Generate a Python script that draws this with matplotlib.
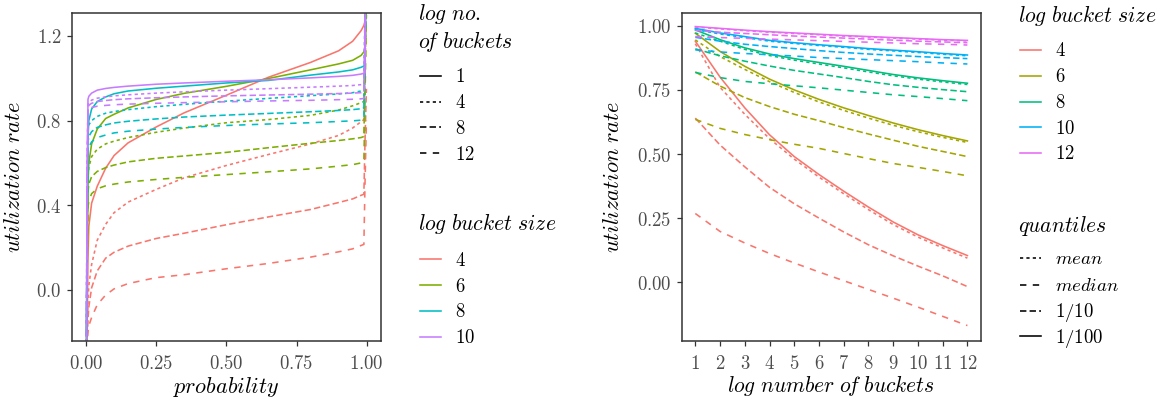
"""Utilization rate of buckets: quantile functions and summary curves."""

import matplotlib
matplotlib.use("Agg")
import matplotlib.pyplot as plt

plt.rcParams["mathtext.fontset"] = "cm"

W, H = 1173, 401

# ---------------------------------------------------------------- left panel
probability = [0.001, 0.004, 0.007, 0.01, 0.02, 0.04, 0.07, 0.1, 0.15, 0.25,
               0.35, 0.5, 0.65, 0.8, 0.9, 0.95, 0.98, 0.99, 0.994, 0.999]
left_sizes = [4, 6, 8, 10]
left_counts = [1, 4, 8, 12]

util_b4 = {
    1: [-0.4, -0.2, 0.15, 0.3, 0.41, 0.49, 0.575, 0.635, 0.695, 0.77,
        0.837, 0.92, 1.005, 1.075, 1.13, 1.175, 1.225, 1.25, 1.27, 1.8],
    4: [-0.4, -0.22, -0.05, 0.02, 0.12, 0.235, 0.31, 0.365, 0.415, 0.475,
        0.53, 0.588, 0.64, 0.69, 0.73, 0.765, 0.795, 0.805, 1.0, 1.4],
    8: [-0.4, -0.25, -0.14, -0.08, 0.01, 0.09, 0.15, 0.178, 0.207, 0.243,
        0.268, 0.308, 0.345, 0.38, 0.413, 0.43, 0.447, 0.452, 0.7, 0.95],
    12: [-0.4, -0.24, -0.2, -0.17, -0.13, -0.07, -0.024, 0.005, 0.03, 0.058,
         0.072, 0.1, 0.125, 0.155, 0.18, 0.194, 0.21, 0.215, 0.5, 0.8],
}
util_b6 = {
    1: [-0.4, 0.1, 0.5, 0.6, 0.69, 0.76, 0.81, 0.83, 0.86, 0.9,
        0.929, 0.962, 0.999, 1.04, 1.068, 1.085, 1.108, 1.125, 1.14, 1.8],
    4: [-0.4, 0.3, 0.54, 0.58, 0.63, 0.665, 0.69, 0.703, 0.72, 0.745,
        0.765, 0.79, 0.805, 0.825, 0.85, 0.87, 0.885, 0.89, 1.2, 1.6],
    8: [-0.4, 0.2, 0.46, 0.5, 0.535, 0.56, 0.578, 0.59, 0.605, 0.622,
        0.633, 0.65, 0.672, 0.693, 0.706, 0.714, 0.72, 0.725, 1.0, 1.4],
    12: [-0.4, 0.1, 0.39, 0.42, 0.455, 0.478, 0.492, 0.5, 0.51, 0.522,
         0.532, 0.545, 0.558, 0.572, 0.585, 0.592, 0.6, 0.607, 0.9, 1.3],
}
util_b8 = {
    1: [-0.4, 0.3, 0.72, 0.8, 0.855, 0.89, 0.912, 0.927, 0.94, 0.953,
        0.963, 0.978, 0.99, 1.015, 1.03, 1.04, 1.052, 1.058, 1.062, 1.8],
    4: [-0.4, 0.5, 0.76, 0.78, 0.8, 0.82, 0.835, 0.843, 0.852, 0.866,
        0.877, 0.892, 0.905, 0.918, 0.926, 0.932, 0.94, 0.946, 1.3, 1.7],
    8: [-0.4, 0.4, 0.7, 0.725, 0.748, 0.768, 0.78, 0.789, 0.797, 0.808,
        0.817, 0.826, 0.834, 0.842, 0.848, 0.852, 0.856, 0.86, 1.2, 1.6],
    12: [-0.4, 0.35, 0.65, 0.675, 0.7, 0.72, 0.732, 0.742, 0.75, 0.76,
         0.768, 0.777, 0.784, 0.79, 0.796, 0.799, 0.802, 0.804, 1.1, 1.5],
}
util_b10 = {
    1: [-0.4, 0.5, 0.9, 0.915, 0.93, 0.944, 0.952, 0.957, 0.963, 0.972,
        0.978, 0.986, 0.993, 1.002, 1.009, 1.014, 1.02, 1.024, 1.026, 1.8],
    4: [-0.4, 0.6, 0.875, 0.885, 0.897, 0.906, 0.912, 0.917, 0.922, 0.93,
        0.936, 0.944, 0.951, 0.958, 0.963, 0.966, 0.97, 0.972, 1.3, 1.7],
    8: [-0.4, 0.55, 0.86, 0.872, 0.882, 0.89, 0.895, 0.899, 0.903, 0.908,
        0.912, 0.917, 0.921, 0.925, 0.928, 0.93, 0.932, 0.934, 1.25, 1.6],
    12: [-0.4, 0.5, 0.84, 0.852, 0.862, 0.868, 0.872, 0.875, 0.878, 0.882,
         0.885, 0.889, 0.893, 0.896, 0.899, 0.901, 0.903, 0.905, 1.2, 1.5],
}
left_data = [util_b4, util_b6, util_b8, util_b10]

# --------------------------------------------------------------- right panel
log_buckets = [1, 2, 3, 4, 5, 6, 7, 8, 9, 10, 11, 12]
right_sizes = [4, 6, 8, 10, 12]
quantile_names = ["mean", "median", "1/10", "1/100"]

rate_b4 = {
    "1/100": [0.94, 0.80, 0.68, 0.575, 0.49, 0.42, 0.355, 0.293, 0.235, 0.185, 0.143, 0.104],
    "mean": [0.93, 0.76, 0.655, 0.56, 0.48, 0.41, 0.345, 0.283, 0.225, 0.176, 0.134, 0.094],
    "1/10": [0.64, 0.535, 0.45, 0.37, 0.306, 0.25, 0.196, 0.146, 0.103, 0.063, 0.025, -0.017],
    "median": [0.268, 0.198, 0.153, 0.112, 0.075, 0.04, 0.006, -0.028, -0.062, -0.097, -0.133, -0.169],
}
rate_b6 = {
    "1/100": [0.971, 0.90, 0.842, 0.792, 0.75, 0.713, 0.68, 0.65, 0.621, 0.595, 0.572, 0.551],
    "mean": [0.945, 0.88, 0.83, 0.782, 0.74, 0.703, 0.67, 0.64, 0.612, 0.587, 0.565, 0.545],
    "1/10": [0.82, 0.765, 0.72, 0.685, 0.655, 0.63, 0.603, 0.578, 0.554, 0.53, 0.51, 0.49],
    "median": [0.635, 0.60, 0.576, 0.556, 0.538, 0.522, 0.502, 0.482, 0.463, 0.448, 0.432, 0.415],
}
rate_b8 = {
    "1/100": [0.984, 0.946, 0.914, 0.89, 0.872, 0.857, 0.842, 0.826, 0.81, 0.797, 0.786, 0.776],
    "mean": [0.972, 0.94, 0.908, 0.884, 0.866, 0.851, 0.836, 0.82, 0.805, 0.792, 0.781, 0.771],
    "1/10": [0.91, 0.883, 0.862, 0.843, 0.826, 0.812, 0.798, 0.783, 0.77, 0.76, 0.751, 0.743],
    "median": [0.818, 0.798, 0.783, 0.774, 0.766, 0.758, 0.749, 0.74, 0.731, 0.724, 0.716, 0.708],
}
rate_b10 = {
    "1/100": [0.99, 0.972, 0.958, 0.943, 0.934, 0.926, 0.919, 0.911, 0.905, 0.899, 0.892, 0.886],
    "mean": [0.985, 0.968, 0.954, 0.94, 0.931, 0.923, 0.916, 0.908, 0.902, 0.896, 0.889, 0.883],
    "1/10": [0.955, 0.94, 0.928, 0.919, 0.911, 0.903, 0.896, 0.89, 0.885, 0.88, 0.876, 0.872],
    "median": [0.906, 0.898, 0.892, 0.887, 0.882, 0.876, 0.872, 0.868, 0.864, 0.86, 0.855, 0.851],
}
rate_b12 = {
    "1/100": [0.997, 0.99, 0.983, 0.977, 0.972, 0.967, 0.962, 0.958, 0.954, 0.95, 0.946, 0.943],
    "mean": [0.995, 0.988, 0.981, 0.975, 0.97, 0.965, 0.96, 0.956, 0.952, 0.948, 0.944, 0.941],
    "1/10": [0.982, 0.975, 0.97, 0.965, 0.96, 0.956, 0.952, 0.948, 0.944, 0.94, 0.937, 0.934],
    "median": [0.958, 0.954, 0.951, 0.948, 0.945, 0.942, 0.939, 0.936, 0.933, 0.93, 0.928, 0.925],
}
right_data = [rate_b4, rate_b6, rate_b8, rate_b10, rate_b12]

# ---------------------------------------------------------------- styles
LEFT_COLORS = ["#F8766D", "#7CAE00", "#00BFC4", "#C77CFF"]
RIGHT_COLORS = ["#F8766D", "#A3A500", "#00BF7D", "#00B0F6", "#E76BF3"]
COUNT_STYLE = {1: "-", 4: (0, (2, 2)), 8: (0, (4, 2)), 12: (0, (4, 4))}
QUANT_STYLE = {"1/100": "-", "mean": (0, (2, 2)), "1/10": (0, (4, 2)), "median": (0, (4, 4))}
LW = 1.15
TICK_SIZE = 13.5
TITLE_SIZE = 16
LEG_TITLE = 15.5
LEG_LABEL = 13.5


def it(text):
    """Italic math text, Computer Modern look."""
    body = text.replace(" of ", r" o\!f ").replace("of ", r"o\!f ")
    return r"$\mathit{" + body.replace(" ", r"\ ") + "}$"


def style_axes(ax):
    for spine in ax.spines.values():
        spine.set_color("#333333")
        spine.set_linewidth(1.1)
    ax.tick_params(length=3.3, width=0.9, color="#333333", labelcolor="#4D4D4D",
                   labelsize=TICK_SIZE)
    ax.tick_params(axis="x", pad=6)
    ax.tick_params(axis="y", pad=4)


fig = plt.figure(figsize=(W / 100, H / 100), dpi=100)

# left axes
ax1 = fig.add_axes([71.7 / W, 1 - 340.7 / H, 309.3 / W, 328 / H])
for size_vals, col in zip(left_data, LEFT_COLORS):
    for n in left_counts:
        ax1.plot(probability, size_vals[n], color=col, lw=LW, ls=COUNT_STYLE[n])
ax1.set_xlim(-0.051, 1.051)
ax1.set_ylim(-0.24, 1.31)
ax1.set_xticks([0, 0.25, 0.5, 0.75, 1.0])
ax1.set_xticklabels([it(s) for s in ["0.00", "0.25", "0.50", "0.75", "1.00"]])
ax1.set_yticks([0.0, 0.4, 0.8, 1.2])
ax1.set_yticklabels([it(s) for s in ["0.0", "0.4", "0.8", "1.2"]])
style_axes(ax1)
ax1.set_xlabel(it("probability"), fontsize=TITLE_SIZE)
ax1.set_ylabel(it("utilization rate"), fontsize=TITLE_SIZE)
ax1.xaxis.set_label_coords(0.5, -0.105)
ax1.yaxis.set_label_coords(-0.155, 0.5)

# right axes
ax2 = fig.add_axes([681.7 / W, 1 - 340.7 / H, 299.3 / W, 328 / H])
for size_vals, col in zip(right_data, RIGHT_COLORS):
    for q in ["1/100", "mean", "1/10", "median"]:
        ax2.plot(log_buckets, size_vals[q], color=col, lw=LW, ls=QUANT_STYLE[q])
ax2.set_xlim(0.45, 12.55)
ax2.set_ylim(-0.228, 1.051)
ax2.set_xticks(log_buckets)
ax2.set_xticklabels([it(str(k)) for k in log_buckets])
ax2.set_yticks([0.0, 0.25, 0.5, 0.75, 1.0])
ax2.set_yticklabels([it(s) for s in ["0.00", "0.25", "0.50", "0.75", "1.00"]])
style_axes(ax2)
ax2.set_xlabel(it("log number of buckets"), fontsize=15.5)
ax2.set_ylabel(it("utilization rate"), fontsize=TITLE_SIZE)
ax2.xaxis.set_label_coords(0.5, -0.1)
ax2.yaxis.set_label_coords(-0.195, 0.5)

# legends drawn in a pixel-space overlay
lax = fig.add_axes([0, 0, 1, 1], facecolor="none")
lax.set_xlim(0, W)
lax.set_ylim(H, 0)
lax.axis("off")


def legend_block(x, title_lines, title_base, key_rows, labels, styles, colors):
    for i, line in enumerate(title_lines):
        lax.text(x, title_base + i * 27, it(line), fontsize=LEG_TITLE,
                 ha="left", va="baseline")
    for y, lab, ls, col in zip(key_rows, labels, styles, colors):
        lax.plot([x + 2, x + 22.5], [y, y], color=col, lw=LW, ls=ls)
        lax.text(x + 37, y + 6.5, it(lab), fontsize=LEG_LABEL, ha="left",
                 va="baseline")


legend_block(418, ["log no.", "of buckets"], 20.5, [75.7, 101.5, 127.3, 153.1],
             [str(n) for n in left_counts], [COUNT_STYLE[n] for n in left_counts],
             ["black"] * 4)
legend_block(418, ["log bucket size"], 230, [259.3, 285, 310.7, 336.5],
             [str(s) for s in left_sizes], ["-"] * 4, LEFT_COLORS)
legend_block(1018, ["log bucket size"], 21.5, [50, 76, 101.5, 127, 152.7],
             [str(s) for s in right_sizes], ["-"] * 5, RIGHT_COLORS)
legend_block(1018, ["quantiles"], 231.5, [258, 284.5, 310.5, 336],
             quantile_names, [QUANT_STYLE[q] for q in quantile_names],
             ["black"] * 4)

fig.savefig("out.png", dpi=100)
